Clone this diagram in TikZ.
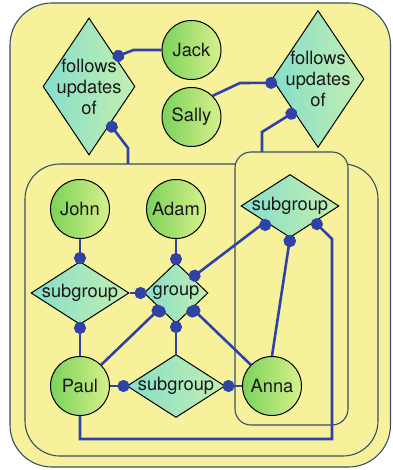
\documentclass[tikz,border=0pt]{standalone}
\usepackage{fontspec}
\setmainfont{TeX Gyre Heros}
\usetikzlibrary{shapes.geometric,arrows.meta}
\definecolor{bgyellow}{HTML}{F6F19A}
\definecolor{boxline}{HTML}{34506A}
\definecolor{linkblue}{HTML}{3042A6}
\definecolor{persdark}{HTML}{7BD25A}
\definecolor{perslight}{HTML}{D8F08C}
\definecolor{reldark}{HTML}{86DECB}
\definecolor{rellight}{HTML}{C4EFB0}

\begin{document}
\begin{tikzpicture}[x=1pt,y=-1pt,
    every node/.style={font=\fontsize{18.3}{21}\selectfont, text=black!90},
    person/.style={circle, draw, line width=1pt, minimum size=59pt, inner sep=0pt,
        left color=persdark, right color=perslight},
    rel/.style={diamond, draw, line width=1pt, inner sep=-3pt,
        left color=reldark, right color=rellight},
    subgrp/.style={rel, aspect=1.6, minimum width=98pt, minimum height=63pt},
    grp/.style={rel, aspect=1, minimum width=64pt, minimum height=61pt},
    follows/.style={rel, align=center, inner sep=-12pt, aspect=0.67,
        minimum width=92pt, minimum height=137pt},
    box/.style={draw=boxline, fill=bgyellow, line width=1.1pt},
    conn/.style={draw, color=linkblue, line width=2.6pt},
    dotstart/.style={arrows={Circle[length=12pt]-}, shorten <=-3pt},
    dotend/.style={arrows={-Circle[length=12pt]}, shorten >=-3pt}]

    \useasboundingbox (0,0) rectangle (392,470);

    % group boxes
    \draw [box, rounded corners=42pt] (10,3) rectangle (390.5,467);
    \draw [box, rounded corners=35pt] (25,164) rectangle (378,456);
    \draw [box, rounded corners=16pt] (235,152) rectangle (348,425);
    \coordinate (midtop) at (128,164);
    \coordinate (subtop) at (262,152);

    \node [person] (Jack) at (191.5,50) {Jack};
    \node [person] (Sally) at (191.5,117) {Sally};
    \node [follows] (F1) at (89,86.5) {follows\\updates\\of};
    \node [follows] (F2) at (318,79) {follows\\updates\\of};

    \node [person] (John) at (80,209) {John};
    \node [person] (Adam) at (176,209) {Adam};
    \node [subgrp] (S2) at (290,206) {subgroup};

    \node [subgrp] (S1) at (80,293) {subgroup};
    \node [grp] (G) at (176,293) {group};

    \node [person] (Paul) at (80,386) {Paul};
    \node [subgrp] (S3) at (176,386) {subgroup};
    \node [person] (Anna) at (272,386) {Anna};

    \draw [conn, dotend] (Jack.west) -- ++(-28,0) -- (F1.48);
    \draw [conn, dotstart] (F1.-61) -- (128,148) -- (midtop);
    \draw [conn, dotend] (Sally.45) -- (240,83) -- (F2.185);
    \draw [conn, dotstart] (F2.234) -- (262,132) -- (subtop);

    \path [conn, dotend] (John) edge (S1);
    \path [conn, dotend] (Adam) edge (G);
    \path [conn, dotend] (S1) edge (G);
    \path [conn, dotend] (S2.south west) edge (G.north east);
    \path [conn, dotstart] (S1) edge (Paul);
    \path [conn, dotstart] (G.south west) edge (Paul.north east);
    \path [conn, dotstart] (G.south east) edge (Anna.north west);
    \path [conn, dotstart] (G) edge (S3);
    \path [conn, dotend] (Paul) edge (S3);
    \path [conn, dotstart] (S3) edge (Anna);
    \path [conn, dotstart] (S2.south) edge (Anna.north);

    \draw [conn, dotstart] (S2.south east) -- (332,239) -- (332,439) -| (Paul.south);
\end{tikzpicture}
\end{document}
